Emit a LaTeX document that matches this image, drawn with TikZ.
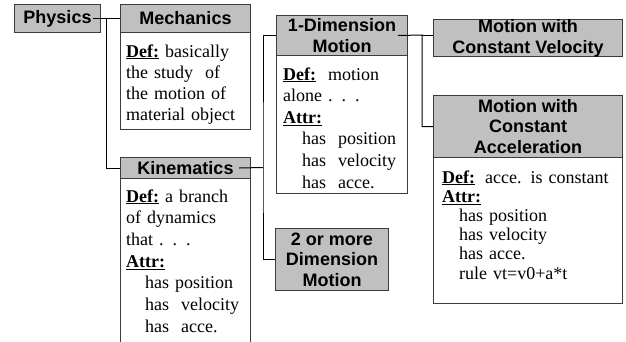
\documentclass[tikz,border=0pt]{standalone}
\usepackage{fontspec}
\setmainfont{Liberation Serif}
\newfontfamily\hdfont{Liberation Sans}
\definecolor{boxgray}{RGB}{192,192,192}
\definecolor{edgegray}{RGB}{60,60,60}
\newcommand{\tagword}[1]{\underline{\textbf{#1}}}
\newcommand{\fillline}[2]{\makebox[#1][s]{#2}}
\newcommand{\attrline}[1]{\hspace*{19pt}#1}
\begin{document}
\begin{tikzpicture}[x = 1pt, y = -1pt,
  head/.style = {draw = edgegray, line width = 1pt, fill = boxgray, anchor = north west, inner sep = 0pt, align = center, font = \hdfont\bfseries\fontsize{18}{20.5}\selectfont},
  body/.style = {draw = edgegray, line width = 1pt, fill = white, anchor = north west, inner sep = 0pt},
  note/.style = {anchor = base west, inner sep = 0pt, align = left, text width = 220pt, font = \fontsize{18}{#1}\selectfont},
  link/.style = {draw = black, line width = 1pt}]
\path[use as bounding box] (0,0) rectangle (626,341);
\clip (0,0) rectangle (626,341);

\node[head, minimum width = 86pt, minimum height = 28pt] (phys) at (14,4) {Physics};

\node[head, minimum width = 130pt, minimum height = 28pt] (mech) at (120,4) {Mechanics};
\node[body, minimum width = 130pt, minimum height = 97pt] (mechB) at (120,32) {};
\node[note = 21pt] (mechT) at (126,57)
  {\fillline{120pt}{\tagword{Def:} basically}\\ the study\ \ of\\ \fillline{120pt}{the motion of}\\ \fillline{120pt}{material object}};

\node[head, minimum width = 130pt, minimum height = 21pt] (kin) at (120,157) {Kinematics};
\node[body, minimum width = 130pt, minimum height = 200pt] (kinB) at (120,178) {};
\node[note = 21.7pt] (kinT) at (126,202)
  {\fillline{110pt}{\tagword{Def:} a branch}\\ of dynamics\\ that . . .\\ \tagword{Attr:}\\
   \attrline{has position}\\ \attrline{has\ \ velocity}\\ \attrline{has\ \ acce.}};

\node[head, minimum width = 131pt, minimum height = 40pt] (oneD) at (276,15) {1-Dimension\\Motion};
\node[body, minimum width = 131pt, minimum height = 138pt] (oneDB) at (276,55) {};
\node[note = 21.6pt] (oneDT) at (283,80)
  {\tagword{Def:}\ \ motion\\ alone . . .\\ \tagword{Attr:}\\
   \attrline{has\ \ position}\\ \attrline{has\ \ velocity}\\ \attrline{has\ \ acce.}};

\node[head, minimum width = 113pt, minimum height = 62pt] (twoD) at (275,228) {2 or more\\Dimension\\Motion};

\node[head, minimum width = 189pt, minimum height = 36pt] (constV) at (433,19) {Motion with\\Constant Velocity};

\node[head, minimum width = 189pt, minimum height = 62pt] (constA) at (433,95) {Motion with\\Constant\\Acceleration};
\node[body, minimum width = 189pt, minimum height = 146pt] (constAB) at (433,157) {};
\node[note = 19.2pt] (constAT) at (442,183)
  {\tagword{Def:}\hspace{10pt}acce. is constant\\ \tagword{Attr:}\\
   \hspace*{17pt}has position\\ \hspace*{17pt}has velocity\\ \hspace*{17pt}has acce.\\ \hspace*{17pt}rule vt=v0+a*t};

\coordinate (physbus) at (106,18);
\draw[link] ([xshift = -8pt]phys.east) -- (mech.west);
\draw[link] (physbus) |- (kin.west);

\coordinate (kinbus) at (263,167.5);
\draw[link] ([xshift = -12pt]kin.east) -- (kinbus);
\draw[link] (oneD.west) -| (kinbus) |- (twoD.west);

\coordinate (onebus) at (422,35);
\draw[link] ([xshift = -10pt]oneD.east) -- (onebus) |- (constA.west);
\draw[link] (onebus) -- (onebus -| constV.west);
\end{tikzpicture}
\end{document}
